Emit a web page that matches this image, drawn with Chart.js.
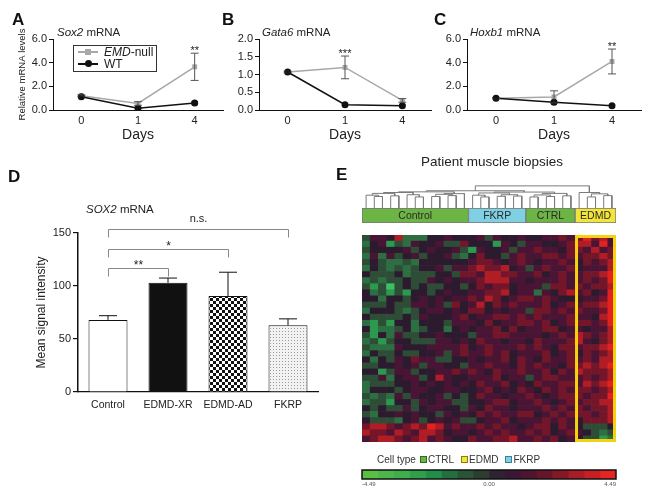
<!DOCTYPE html>
<html>
<head>
<meta charset="utf-8">
<script src="https://cdn.jsdelivr.net/npm/chart.js@4.4.1/dist/chart.umd.min.js"></script>
<style>
  body { margin: 0; background: #fff; }
  #fig { position: relative; width: 648px; height: 495px; overflow: hidden; font-family: 'Liberation Sans', Arial, sans-serif; color: #222; }
  #fig canvas { position: absolute; }
  .txt { position: absolute; white-space: nowrap; line-height: 1; }
  .letter { font-weight: bold; font-size: 17px; color: #111; }
  .sq { display: inline-block; width: 5px; height: 5px; border: 1px solid; margin: 0 1px 0 4px; vertical-align: 0; }
</style>
</head>
<body>
<div id="fig">
  <canvas id="chartA" width="228" height="150" style="left:0;top:0;width:228px;height:150px"></canvas>
  <canvas id="chartB" width="220" height="150" style="left:215px;top:0;width:220px;height:150px"></canvas>
  <canvas id="chartC" width="223" height="150" style="left:425px;top:0;width:223px;height:150px"></canvas>
  <canvas id="chartD" width="325" height="258" style="left:0;top:160px;width:325px;height:258px"></canvas>
  <canvas id="dendro" width="254" height="23" style="left:362px;top:185px;width:254px;height:23px"></canvas>
  <canvas id="groups" width="256" height="17" style="left:361px;top:207px;width:256px;height:17px"></canvas>
  <canvas id="heat" width="254" height="207" style="left:362px;top:235px;width:254px;height:207px"></canvas>
  <canvas id="scalebar" width="274" height="24" style="left:352px;top:469px;width:274px;height:24px"></canvas>

  <div class="txt letter" style="left:12px;top:11px">A</div>
  <div class="txt letter" style="left:222px;top:11px">B</div>
  <div class="txt letter" style="left:434px;top:11px">C</div>
  <div class="txt letter" style="left:8px;top:168px">D</div>
  <div class="txt letter" style="left:336px;top:166px">E</div>

  <div class="txt" style="left:57px;top:27px;font-size:11.5px"><i>Sox2</i> mRNA</div>
  <div class="txt" style="left:262px;top:27px;font-size:11.5px"><i>Gata6</i> mRNA</div>
  <div class="txt" style="left:470px;top:27px;font-size:11.5px"><i>Hoxb1</i> mRNA</div>
  <div class="txt" style="left:86px;top:204px;font-size:11.5px"><i>SOX2</i> mRNA</div>

  <!-- legend of panel A -->
  <div style="position:absolute;left:73px;top:45px;width:84px;height:27px;border:1px solid #333;box-sizing:border-box"></div>
  <div style="position:absolute;left:78px;top:51px;width:20px;height:1.5px;background:#a8a8a8"></div>
  <div style="position:absolute;left:85px;top:49px;width:6px;height:6px;background:#a8a8a8"></div>
  <div class="txt" style="left:104px;top:46px;font-size:12px"><i>EMD</i>-null</div>
  <div style="position:absolute;left:78px;top:63px;width:20px;height:1.5px;background:#111"></div>
  <div style="position:absolute;left:85px;top:60px;width:7px;height:7px;border-radius:50%;background:#111"></div>
  <div class="txt" style="left:104px;top:58px;font-size:12px">WT</div>

  <div class="txt" style="left:392px;top:155px;width:200px;text-align:center;font-size:13.5px">Patient muscle biopsies</div>
  <div class="txt" style="left:377px;top:455px;font-size:10px;color:#333">Cell type<span class="sq" style="background:#6cb544;border-color:#2f6b1c"></span>CTRL<span class="sq" style="background:#f3e43a;border-color:#8a7d10;margin-left:7px"></span>EDMD<span class="sq" style="background:#7fd0e2;border-color:#3a7f92;margin-left:7px"></span>FKRP</div>
</div>

<script>
const FONT = "'Liberation Sans', Arial, sans-serif";
Chart.defaults.font.family = FONT;
Chart.defaults.color = '#222';
Chart.defaults.animation = false;
Chart.defaults.plugins.legend.display = false;
Chart.defaults.plugins.tooltip.enabled = false;

// ---- panels A-C: qPCR time courses
const days = ['0', '1', '4'];

const sox2Null = [1.2, 0.55, 3.65];
const sox2NullErr = [0.08, 0.15, 1.15];
const sox2Wt = [1.12, 0.15, 0.6];
const sox2WtErr = [0.05, 0.12, 0.12];
const sox2Stars = ['', '', '**'];

const gata6Null = [1.07, 1.2, 0.27];
const gata6NullErr = [0.02, 0.32, 0.05];
const gata6Wt = [1.07, 0.15, 0.12];
const gata6WtErr = [0.02, 0.02, 0.03];
const gata6Stars = ['', '***', ''];

const hoxb1Null = [1.0, 1.1, 4.1];
const hoxb1NullErr = [0.05, 0.52, 1.05];
const hoxb1Wt = [1.0, 0.65, 0.35];
const hoxb1WtErr = [0.05, 0.15, 0.05];
const hoxb1Stars = ['', '', '**'];

// ---- panel D: microarray signal
const groups = ['Control', 'EDMD-XR', 'EDMD-AD', 'FKRP'];
const sox2Signal = [68, 103, 90.5, 63];
const sox2SignalErr = [4, 4.5, 22.5, 6];
// [from group, to group, height, label]
const sigBrackets = [[0, 1, 117, '**'], [0, 2, 135, '*'], [0, 3, 153.5, 'n.s.']];

// ---- panel E: heatmap (levels 0 = strongest green, 4 = ~0, 8 = strongest red)
const sampleGroups = ['Control', 'FKRP', 'CTRL', 'EDMD'];
const groupSizes = [13, 7, 6, 5];
const groupColors = ['#6cb544', '#7fd0e2', '#6cb544', '#f3e43a'];
const heatRows = [
  '3554722244544 4535445 445565 68675',
  '2451325445336 4441543 554456 77585',
  '3444453454453 1544535 565546 65756',
  '2525345344532 4644356 556656 56676',
  '3432232444444 5665456 545565 46567',
  '2432323445355 6766745 356556 45557',
  '4333423334436 6577665 564565 56678',
  '2323343354545 5677755 455565 56568',
  '3130343433443 4656645 553665 65667',
  '4231314434544 5566745 525467 56458',
  '4424434545455 6576456 656544 45568',
  '3334335545364 5746565 556456 56678',
  '2444323455454 6645455 366565 65568',
  '4333343544456 4556656 565556 55478',
  '2131442444355 5464556 656456 66568',
  '4122342344245 4556464 556645 54557',
  '3142533445444 3556655 554565 76567',
  '2313443335545 4655455 465556 75467',
  '3222544455556 4565556 565466 56678',
  '2433433445356 5565645 556456 46567',
  '4243546553344 5455646 546556 56577',
  '3344545355443 5565546 565546 67678',
  '4413553445565 6546556 556465 76667',
  '3352455347544 5556455 356655 56567',
  '2333445454545 4655645 465566 57678',
  '2444345544554 4564546 546565 66567',
  '3232535445343 4655455 654566 65668',
  '2331443545533 4456645 565456 56677',
  '4343353455443 5465545 556565 65667',
  '3244545443545 4656556 645656 66567',
  '4333245345453 3455645 556565 46667',
  '6776567687565 5656554 566465 43334',
  '7665765776455 4565655 656456 54323',
  '5677656756544 6556675 565645 43312'
];
const heatPalette = ['#3cc063', '#2b9a4e', '#2d6e42', '#2e4d37', '#2c1a2e', '#4a1535', '#74162a', '#b01d24', '#e3221f'];
const scaleTicks = [-4.49, 0, 4.49];
const scaleColors = ['#5cbf45', '#4db64a', '#3fae4c', '#2f9f4c', '#238e4a', '#236f3f', '#2a5437', '#2d3d30',
                     '#2e2330', '#3a1734', '#4e1430', '#66152a', '#861826', '#a81c25', '#c81f24', '#e52524'];
// dendrogram linkage: [node a, node b, height]; leaves 0-30, merges numbered from 31
const linkage = [
  [1, 2, 5.2], [3, 4, 5.5], [0, 31, 5.8], [6, 7, 5.0], [5, 34, 6.0], [8, 9, 5.2], [10, 11, 5.6],
  [36, 37, 6.2], [38, 12, 6.5], [33, 32, 6.6], [40, 35, 7.0], [41, 39, 7.3],
  [14, 15, 5.0], [13, 43, 5.8], [16, 17, 5.3], [18, 19, 5.4], [45, 46, 6.0], [44, 47, 6.8],
  [20, 21, 5.0], [22, 23, 5.2], [49, 50, 5.9], [24, 25, 5.5], [51, 52, 6.6], [48, 53, 7.2], [42, 54, 7.8],
  [27, 28, 5.0], [29, 30, 5.6], [56, 57, 6.4], [26, 58, 7.0], [55, 59, 10]
];

const errorBars = {
  id: 'errorBars',
  afterDatasetsDraw(chart) {
    const { ctx } = chart;
    const y = chart.scales.y;
    chart.data.datasets.forEach((ds, i) => {
      if (!ds.errors) return;
      const meta = chart.getDatasetMeta(i);
      ctx.save();
      ctx.strokeStyle = ds.errorColor;
      ctx.fillStyle = '#222';
      ctx.lineWidth = 1;
      meta.data.forEach((pt, j) => {
        const v = ds.data[j], e = ds.errors[j];
        const top = y.getPixelForValue(v + e);
        const bot = ds.oneSided ? y.getPixelForValue(v) : y.getPixelForValue(v - e);
        const cap = ds.capWidth / 2;
        ctx.beginPath();
        ctx.moveTo(pt.x, top); ctx.lineTo(pt.x, bot);
        ctx.moveTo(pt.x - cap, top); ctx.lineTo(pt.x + cap, top);
        if (!ds.oneSided) { ctx.moveTo(pt.x - cap, bot); ctx.lineTo(pt.x + cap, bot); }
        ctx.stroke();
        if (ds.stars && ds.stars[j]) {
          ctx.font = '11px ' + FONT;
          ctx.textAlign = 'center';
          ctx.fillText(ds.stars[j], pt.x, top + 1);
        }
      });
      ctx.restore();
    });
  }
};

function makeLine(id, nullVals, nullErr, wtVals, wtErr, stars, yMax, yStep, yTitle, yWidth, pad) {
  new Chart(document.getElementById(id), {
    type: 'line',
    data: {
      labels: days,
      datasets: [
        {
          label: 'EMD-null', data: nullVals, errors: nullErr, stars: stars, errorColor: '#555', capWidth: 8,
          borderColor: '#a8a8a8', backgroundColor: '#a8a8a8', borderWidth: 1.5,
          pointStyle: 'rect', pointRadius: 3.5, pointBorderWidth: 0, order: 2
        },
        {
          label: 'WT', data: wtVals, errors: wtErr, errorColor: '#111', capWidth: 6,
          borderColor: '#111', backgroundColor: '#111', borderWidth: 1.5,
          pointStyle: 'circle', pointRadius: 3.5, pointBorderWidth: 0, order: 1
        }
      ]
    },
    options: {
      responsive: false,
      layout: { padding: pad },
      scales: {
        x: {
          offset: true,
          grid: { display: true, drawOnChartArea: false, drawTicks: false },
          border: { color: '#111', width: 1 },
          ticks: { font: { size: 11 }, padding: 4, color: '#222' },
          title: { display: true, text: 'Days', font: { size: 14 }, color: '#222', padding: { top: 0, bottom: 6 } },
          afterFit: s => { s.height = 40; }
        },
        y: {
          min: 0, max: yMax,
          grid: { drawOnChartArea: false, tickLength: 4, color: '#111' },
          border: { color: '#111', width: 1 },
          ticks: { stepSize: yStep, font: { size: 11 }, padding: 2, color: '#222', callback: v => v.toFixed(1) },
          title: { display: !!yTitle, text: yTitle, font: { size: 9.5 }, color: '#222' },
          afterFit: s => { s.width = yWidth; }
        }
      }
    },
    plugins: [errorBars]
  });
}

makeLine('chartA', sox2Null, sox2NullErr, sox2Wt, sox2WtErr, sox2Stars, 6, 2, 'Relative mRNA levels', 40,
  { left: 13, top: 39, right: 5, bottom: 0 });
makeLine('chartB', gata6Null, gata6NullErr, gata6Wt, gata6WtErr, gata6Stars, 2, 0.5, '', 44,
  { left: 0, top: 39, right: 3.5, bottom: 0 });
makeLine('chartC', hoxb1Null, hoxb1NullErr, hoxb1Wt, hoxb1WtErr, hoxb1Stars, 6, 2, '', 42,
  { left: 0, top: 39, right: 7, bottom: 0 });

// ---- panel D
function checkerPattern() {
  const c = document.createElement('canvas');
  c.width = 6; c.height = 6;
  const g = c.getContext('2d');
  g.fillStyle = '#fff'; g.fillRect(0, 0, 6, 6);
  g.fillStyle = '#111'; g.fillRect(0, 0, 3, 3); g.fillRect(3, 3, 3, 3);
  return g.createPattern(c, 'repeat');
}
function stipplePattern() {
  const c = document.createElement('canvas');
  c.width = 3; c.height = 3;
  const g = c.getContext('2d');
  g.fillStyle = '#f2f2f2'; g.fillRect(0, 0, 3, 3);
  g.fillStyle = '#999'; g.fillRect(0, 0, 1, 1);
  return g.createPattern(c, 'repeat');
}

const bracketPlugin = {
  id: 'brackets',
  afterDatasetsDraw(chart) {
    const { ctx, scales: { x, y } } = chart;
    ctx.save();
    ctx.strokeStyle = '#888';
    ctx.lineWidth = 1;
    ctx.fillStyle = '#222';
    ctx.textAlign = 'center';
    sigBrackets.forEach(([a, b, v, label]) => {
      const x1 = Math.round(x.getPixelForValue(a)) + 0.5;
      const x2 = Math.round(x.getPixelForValue(b)) + 0.5;
      const yy = Math.round(y.getPixelForValue(v)) + 0.5;
      ctx.beginPath();
      ctx.moveTo(x1, yy + 8); ctx.lineTo(x1, yy); ctx.lineTo(x2, yy); ctx.lineTo(x2, yy + 8);
      ctx.stroke();
      const isText = /[a-z]/.test(label);
      ctx.font = (isText ? '11px ' : '12px ') + FONT;
      ctx.fillText(label, (x1 + x2) / 2, yy - (isText ? 8 : 0));
    });
    ctx.restore();
  }
};

new Chart(document.getElementById('chartD'), {
  type: 'bar',
  data: {
    labels: groups,
    datasets: [{
      data: sox2Signal,
      errors: sox2SignalErr, oneSided: true, errorColor: '#111', capWidth: 18,
      backgroundColor: ['#fff', '#111', checkerPattern(), stipplePattern()],
      borderColor: '#111', borderWidth: 1, borderSkipped: 'bottom',
      barPercentage: 0.65, categoryPercentage: 1
    }]
  },
  options: {
    responsive: false,
    layout: { padding: { left: 30, top: 73, right: 7, bottom: 0 } },
    scales: {
      x: {
        grid: { display: true, drawOnChartArea: false, drawTicks: false },
        border: { color: '#111', width: 1.2 },
        ticks: { font: { size: 10.5 }, padding: 7, color: '#222' },
        afterFit: s => { s.height = 26; }
      },
      y: {
        min: 0, max: 150,
        grid: { drawOnChartArea: false, tickLength: 5, color: '#111', lineWidth: 1.2 },
        border: { color: '#111', width: 1.5 },
        ticks: { stepSize: 50, font: { size: 11 }, padding: 2, color: '#222' },
        title: { display: true, text: 'Mean signal intensity', font: { size: 12 }, color: '#222' },
        afterFit: s => { s.width = 48; }
      }
    }
  },
  plugins: [errorBars, bracketPlugin]
});

// ---- panel E: dendrogram
const leafCount = groupSizes.reduce((a, b) => a + b, 0);
const nodeX = [], nodeH = [];
for (let i = 0; i < leafCount; i++) { nodeX.push(i + 0.5); nodeH.push(0); }
const dendroSets = linkage.map(([a, b, h]) => {
  const seg = [{ x: nodeX[a], y: nodeH[a] }, { x: nodeX[a], y: h }, { x: nodeX[b], y: h }, { x: nodeX[b], y: nodeH[b] }];
  nodeX.push((nodeX[a] + nodeX[b]) / 2);
  nodeH.push(h);
  return { data: seg, showLine: true, pointRadius: 0, borderColor: '#7a7a7a', borderWidth: 1, clip: false };
});

new Chart(document.getElementById('dendro'), {
  type: 'scatter',
  data: { datasets: dendroSets },
  options: {
    responsive: false,
    layout: { padding: 0 },
    scales: {
      x: { type: 'linear', min: 0, max: leafCount, display: false },
      y: { min: 0, max: 10.4, display: false }
    }
  }
});

// group colour bar
const groupLabels = {
  id: 'groupLabels',
  afterDatasetsDraw(chart) {
    const { ctx } = chart;
    ctx.save();
    ctx.font = '10.5px ' + FONT;
    ctx.fillStyle = '#2a2a2a';
    ctx.textAlign = 'center';
    ctx.textBaseline = 'middle';
    chart.data.datasets.forEach((ds, i) => {
      const p = chart.getDatasetMeta(i).data[0].getCenterPoint();
      ctx.fillText(ds.label, p.x, p.y + 0.5);
    });
    ctx.restore();
  }
};

new Chart(document.getElementById('groups'), {
  type: 'bar',
  data: {
    labels: ['samples'],
    datasets: sampleGroups.map((name, i) => ({
      label: name, data: [groupSizes[i]], backgroundColor: groupColors[i],
      borderColor: '#777', borderWidth: 1, borderSkipped: false,
      barPercentage: 1, categoryPercentage: 1
    }))
  },
  options: {
    indexAxis: 'y',
    responsive: false,
    layout: { padding: 1 },
    scales: {
      x: { stacked: true, min: 0, max: leafCount, display: false },
      y: { stacked: true, display: false }
    }
  },
  plugins: [groupLabels]
});

// heatmap (stacked one-unit cells)
const cleanRows = heatRows.map(r => r.replace(/\s/g, ''));
const edmdStart = leafCount - groupSizes[3];
const edmdBox = {
  id: 'edmdBox',
  afterDatasetsDraw(chart) {
    const { ctx, chartArea, scales: { x } } = chart;
    const half = (x.getPixelForValue(1) - x.getPixelForValue(0)) / 2;
    const left = x.getPixelForValue(edmdStart) - half;
    ctx.save();
    ctx.strokeStyle = '#f5d20f';
    ctx.lineWidth = 3;
    ctx.strokeRect(left + 1.5, chartArea.top + 1.5, chartArea.right - left - 3, chartArea.bottom - chartArea.top - 3);
    ctx.restore();
  }
};

new Chart(document.getElementById('heat'), {
  type: 'bar',
  data: {
    labels: cleanRows[0].split('').map((_, i) => 'S' + (i + 1)),
    datasets: cleanRows.map(row => ({
      data: row.split('').map(() => 1),
      backgroundColor: row.split('').map(c => heatPalette[+c]),
      borderWidth: 0,
      barPercentage: 1, categoryPercentage: 1
    })).reverse()
  },
  options: {
    responsive: false,
    layout: { padding: 0 },
    scales: {
      x: { stacked: true, display: false },
      y: { stacked: true, min: 0, max: cleanRows.length, display: false }
    }
  },
  plugins: [edmdBox]
});

// colour scale
const step = (scaleTicks[2] - scaleTicks[0]) / scaleColors.length;
const scaleOutline = {
  id: 'scaleOutline',
  afterDatasetsDraw(chart) {
    const { ctx, chartArea: a } = chart;
    ctx.save();
    ctx.strokeStyle = '#111';
    ctx.lineWidth = 1.5;
    ctx.strokeRect(a.left, a.top, a.right - a.left, a.bottom - a.top);
    ctx.restore();
  }
};

new Chart(document.getElementById('scalebar'), {
  type: 'bar',
  data: {
    labels: ['scale'],
    datasets: scaleColors.map((c, i) => ({
      data: [[scaleTicks[0] + i * step, scaleTicks[0] + (i + 1) * step]],
      backgroundColor: c, borderWidth: 0,
      barPercentage: 1, categoryPercentage: 1, grouped: false
    }))
  },
  options: {
    indexAxis: 'y',
    responsive: false,
    layout: { padding: { left: 10, right: 10, top: 1, bottom: 0 } },
    scales: {
      x: {
        type: 'linear', min: scaleTicks[0], max: scaleTicks[2],
        grid: { display: false, drawTicks: false }, border: { display: false },
        ticks: { font: { size: 6 }, color: '#555', padding: 2, align: 'inner', callback: v => v.toFixed(2) },
        afterBuildTicks: s => { s.ticks = scaleTicks.map(v => ({ value: v })); },
        afterFit: s => { s.height = 14; s.paddingLeft = 0; s.paddingRight = 0; }
      },
      y: { display: false }
    }
  },
  plugins: [scaleOutline]
});
</script>
</body>
</html>
